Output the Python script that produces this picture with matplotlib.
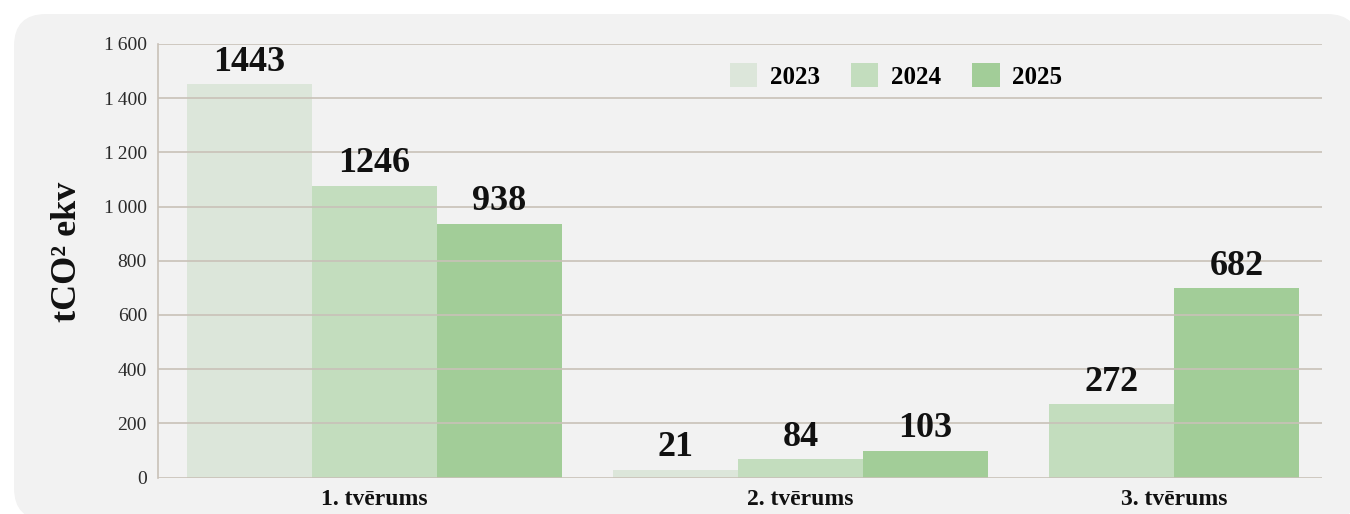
import numpy as np
import matplotlib
matplotlib.use("Agg")
import matplotlib.pyplot as plt
from matplotlib.patches import FancyBboxPatch, Patch

# ---- data ----
categories = ["1. tvērums", "2. tvērums", "3. tvērums"]
years = ["2023", "2024", "2025"]
# bar heights as drawn in the picture (nan = no bar)
heights_2023 = [1452, 28, np.nan]
heights_2024 = [1076, 68, 271]
heights_2025 = [936, 98, 698]
# value labels printed above the bars
labels_2023 = ["1443", "21", ""]
labels_2024 = ["1246", "84", "272"]
labels_2025 = ["938", "103", "682"]
y_ticks = [0, 200, 400, 600, 800, 1000, 1200, 1400, 1600]
y_tick_labels = ["0", "200", "400", "600", "800", "1\u2009000", "1\u2009200", "1\u2009400", "1\u2009600"]
y_label = "tCO\u00b2 ekv"

colors = ["#dce6da", "#c3ddbe", "#a2cd98"]
grid_c = "#c9c1b8"
FONT = ["Liberation Serif", "DejaVu Serif"]

W, H = 1350, 514
fig = plt.figure(figsize=(W / 100, H / 100), dpi=100)
fig.patch.set_facecolor("white")

# background rounded panel
bg = fig.add_axes([0, 0, 1, 1])
bg.set_xlim(0, W)
bg.set_ylim(H, 0)
bg.axis("off")
bg.add_patch(FancyBboxPatch((14, 14), 1345, 506, boxstyle="round,pad=0,rounding_size=32",
                            facecolor="#f2f2f2", edgecolor="none"))

ax = fig.add_axes([158 / W, 1 - 477.5 / H, (1322 - 158) / W, (477.5 - 44) / H])
ax.set_facecolor("none")

heights = [heights_2023, heights_2024, heights_2025]
labels = [labels_2023, labels_2024, labels_2025]
group_centers = [1.732, 5.14, 8.128]
bw = 1.0
for g, gc in enumerate(group_centers):
    present = [s for s in range(len(years)) if not np.isnan(heights[s][g])]
    n = len(present)
    for k, s in enumerate(present):
        x = gc + (k - (n - 1) / 2) * bw
        h = heights[s][g]
        ax.bar(x, h, width=bw, color=colors[s], linewidth=0, zorder=1)
        ax.annotate(labels[s][g], (x, h), xytext=(0, 4), textcoords="offset points",
                    ha="center", va="bottom", fontsize=26, fontweight="bold",
                    family=FONT, color="#111111", zorder=3)

ax.set_xlim(0, 9.312)
ax.set_ylim(0, 1600)
ax.set_yticks(y_ticks)
ax.set_yticklabels(y_tick_labels, family=FONT, fontsize=14, color="#2a2a2a")
ax.set_xticks(group_centers)
ax.set_xticklabels(categories, family=FONT, fontsize=17, fontweight="bold", color="#111111")
ax.tick_params(axis="y", length=0, pad=8)
ax.tick_params(axis="x", length=0, pad=8)
ax.yaxis.grid(True, color=grid_c, linewidth=1.2, zorder=2)
ax.set_axisbelow(False)
for sp in ["top", "right", "bottom"]:
    ax.spines[sp].set_visible(False)
ax.spines["left"].set_color(grid_c)
ax.spines["left"].set_linewidth(1.2)

fig.text(67 / W, 1 - 252 / H, y_label, rotation=90, ha="center", va="center",
         fontsize=26, fontweight="bold", family=FONT, color="#111111")

handles = [Patch(facecolor=c, edgecolor="none", label=y) for c, y in zip(colors, years)]
leg = fig.legend(handles=handles, loc="center", bbox_to_anchor=(896 / W, 1 - 76 / H),
                 ncol=3, frameon=False, handlelength=1.1, handleheight=1.1,
                 handletextpad=0.5, columnspacing=1.25,
                 prop={"family": FONT, "size": 18, "weight": "bold"})

fig.savefig("out.png", dpi=100)
